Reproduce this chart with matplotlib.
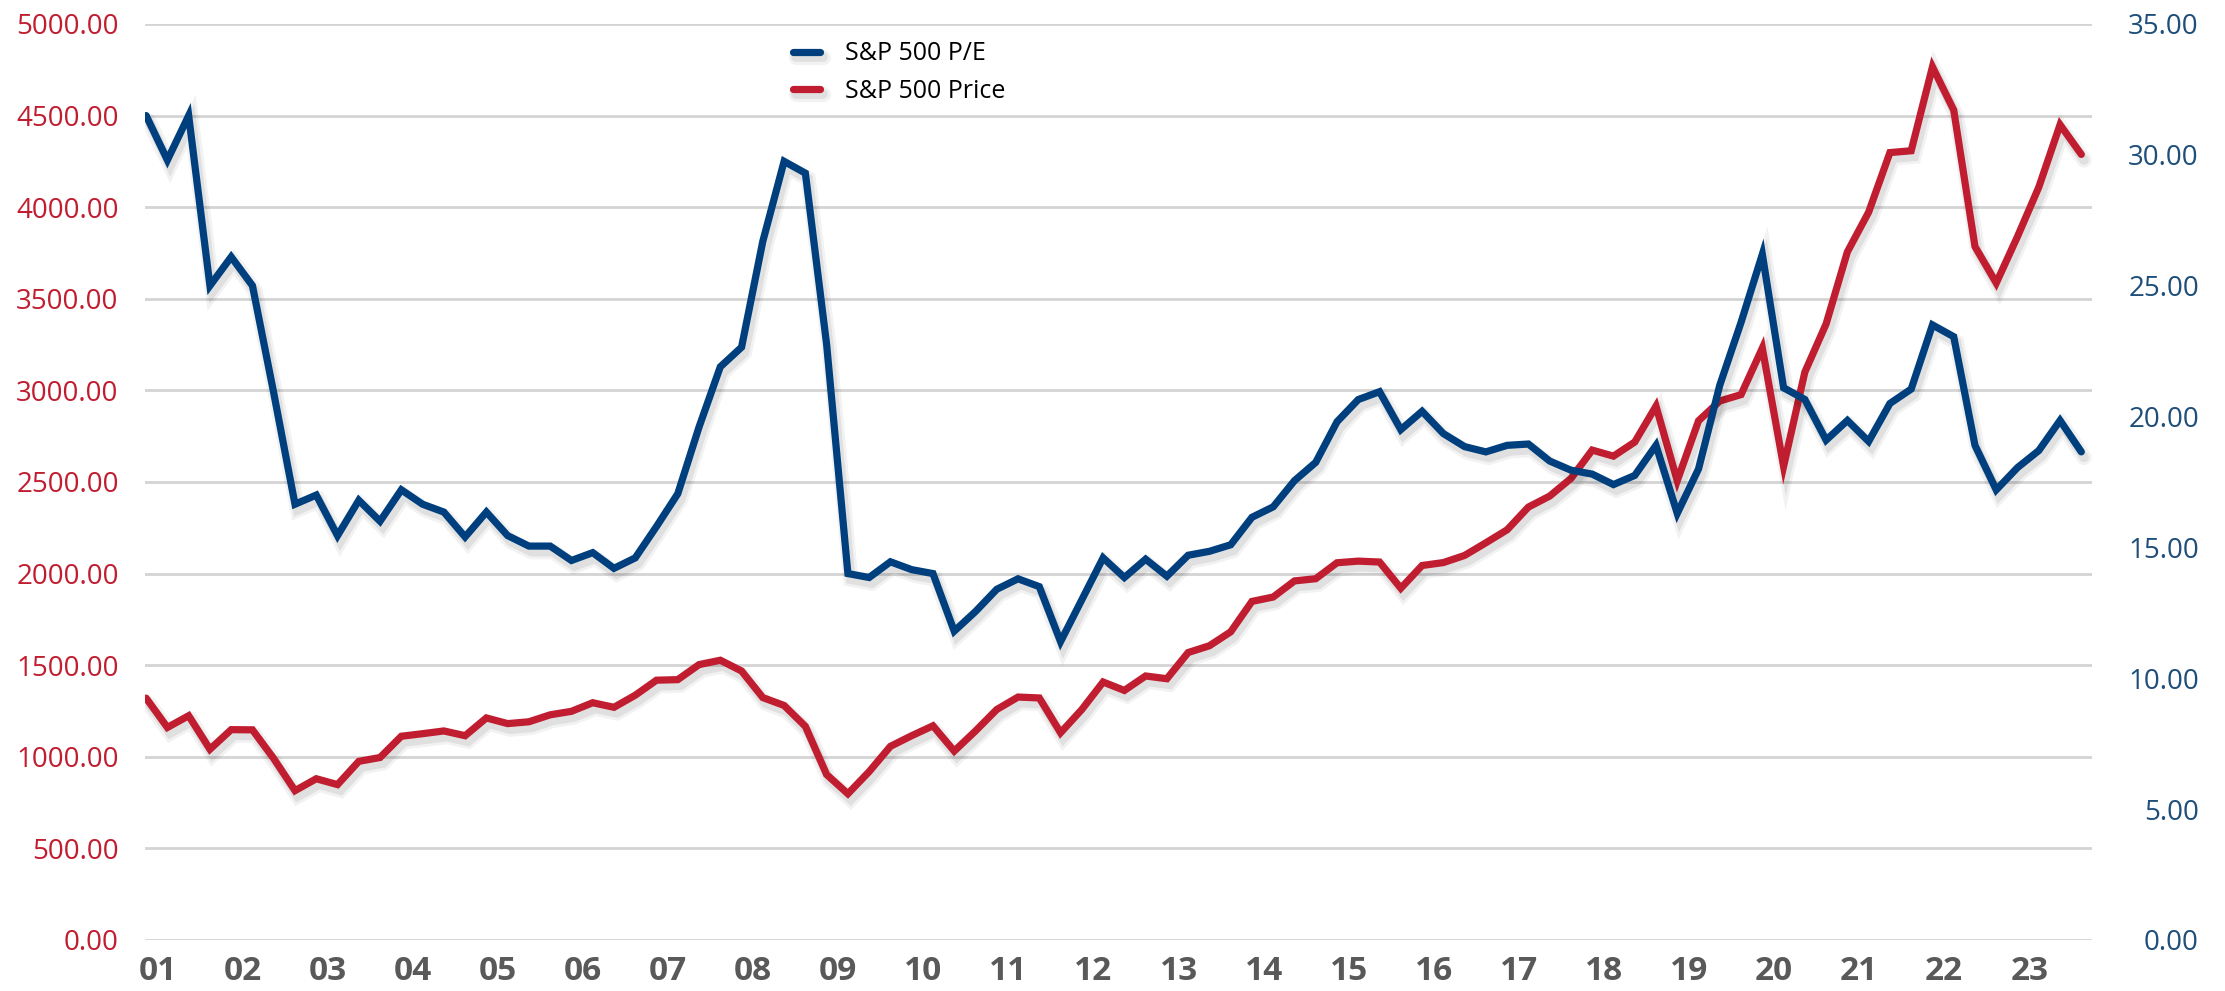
import matplotlib
matplotlib.use("Agg")
import matplotlib.pyplot as plt
import matplotlib.patheffects as pe
from matplotlib.ticker import FormatStrFormatter, MultipleLocator

plt.rcParams['font.family'] = ['Open Sans', 'DejaVu Sans']

############# data: quarterly points, first point at end of 2000 ###############
year_labels = ["%02d" % y for y in range(1, 24)]

sp500_price = [1320, 1160, 1224, 1041, 1148, 1147, 990, 815, 880, 848,
               975, 996, 1112, 1126, 1141, 1115, 1212, 1181, 1191, 1229,
               1248, 1295, 1270, 1336, 1418, 1421, 1503, 1527, 1468, 1323,
               1280, 1166, 903, 798, 919, 1057, 1115, 1169, 1031, 1141,
               1258, 1326, 1321, 1131, 1258, 1408, 1362, 1441, 1426, 1569,
               1606, 1682, 1848, 1872, 1960, 1972, 2059, 2068, 2063, 1920,
               2044, 2060, 2099, 2168, 2239, 2363, 2423, 2519, 2674, 2641,
               2718, 2914, 2507, 2834, 2942, 2977, 3231, 2585, 3100, 3363,
               3756, 3973, 4298, 4308, 4766, 4530, 3785, 3586, 3840, 4109,
               4450, 4288]

sp500_pe = [31.5, 29.8, 31.5, 25.0, 26.1, 25.0, 20.9, 16.65, 17.0, 15.45,
            16.8, 16.0, 17.2, 16.65, 16.35, 15.4, 16.35, 15.45, 15.05, 15.05,
            14.5, 14.8, 14.2, 14.6, 15.8, 17.05, 19.6, 21.9, 22.65, 26.7,
            29.75, 29.3, 22.75, 14.0, 13.85, 14.45, 14.15, 14.0, 11.8, 12.55,
            13.4, 13.8, 13.5, 11.4, 13.0, 14.6, 13.85, 14.55, 13.9, 14.7,
            14.85, 15.1, 16.15, 16.55, 17.55, 18.25, 19.8, 20.65, 20.95, 19.5,
            20.2, 19.35, 18.85, 18.65, 18.9, 18.95, 18.3, 17.95, 17.8, 17.4,
            17.75, 18.9, 16.3, 18.0, 21.2, 23.6, 26.2, 21.1, 20.65, 19.1,
            19.85, 19.05, 20.5, 21.05, 23.5, 23.05, 18.9, 17.2, 18.05, 18.7,
            19.85, 18.65]

blue = "#003f7d"
red = "#c01e30"

quarters = list(range(len(sp500_price)))
label_pos = [4 * k + 0.55 for k in range(len(year_labels))]

# soft drop shadow under the lines
shadow = [pe.SimpleLineShadow(offset=(2, -4), shadow_color="black", alpha=0.05, linewidth=11),
          pe.SimpleLineShadow(offset=(2, -4), shadow_color="black", alpha=0.07, linewidth=7),
          pe.Normal()]

############# figure #####################################################
fig = plt.figure(figsize=(22.25, 9.91), dpi=100)
ax = fig.add_axes([0.0652, 0.0515, 0.875, 0.9243])
ax2 = ax.twinx()

ax.plot(quarters, sp500_price, color=red, linewidth=5.2, label="S&P 500 Price",
        solid_joinstyle="miter", solid_capstyle="round", path_effects=shadow)
ax2.plot(quarters, sp500_pe, color=blue, linewidth=5.2, label="S&P 500 P/E",
         solid_joinstyle="miter", solid_capstyle="round", path_effects=shadow)

ax.set_xlim(-0.05, 91.5)
ax.set_ylim(0, 5000)
ax2.set_ylim(0, 35)
ax.yaxis.set_major_locator(MultipleLocator(500))
ax2.yaxis.set_major_locator(MultipleLocator(5))
ax.yaxis.set_major_formatter(FormatStrFormatter("%.2f"))
ax2.yaxis.set_major_formatter(FormatStrFormatter("%.2f"))

ax.set_xticks(label_pos)
ax.set_xticklabels(year_labels)

ax.grid(axis="y", color="#d4d4d4", linewidth=2)
ax.set_axisbelow(True)

for a in (ax, ax2):
    for s in a.spines.values():
        s.set_visible(False)

ax.tick_params(axis="y", length=0, labelsize=20, labelcolor=red, pad=19)
ax2.tick_params(axis="y", length=0, labelsize=20, labelcolor="#1f4e79", pad=77)
for lbl in ax2.get_yticklabels():
    lbl.set_horizontalalignment("right")
ax.tick_params(axis="x", length=0, labelsize=24, labelcolor="#595959", pad=11)
for lbl in ax.get_xticklabels():
    lbl.set_fontweight("bold")

h1, l1 = ax2.get_legend_handles_labels()
h2, l2 = ax.get_legend_handles_labels()
ax2.legend(h1 + h2, l1 + l2, loc="upper left", bbox_to_anchor=(0.3328, 0.981),
           frameon=False, fontsize=18, handlelength=1.1, handletextpad=0.98,
           labelspacing=0.49, borderpad=0, borderaxespad=0)

fig.savefig("out.png", dpi=100)
